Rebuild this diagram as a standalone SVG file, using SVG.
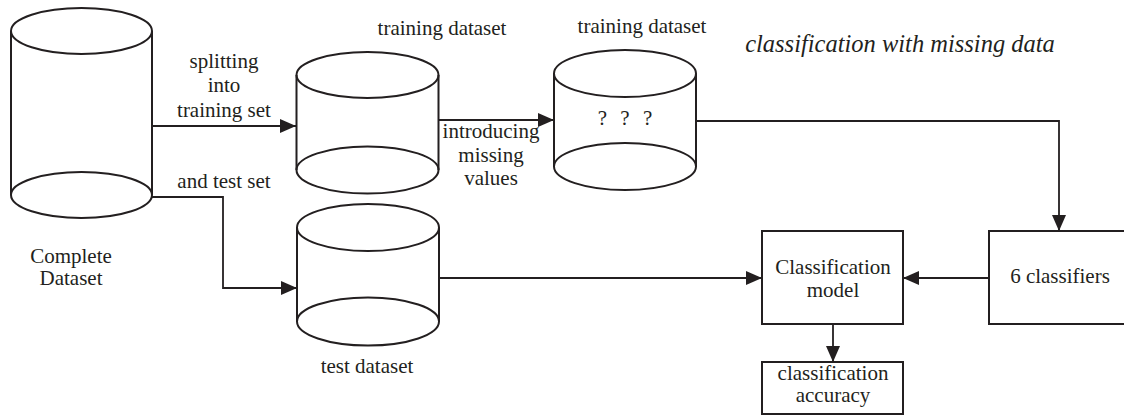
<svg xmlns="http://www.w3.org/2000/svg" width="1124" height="415" viewBox="0 0 1124 415">
<defs>
<style>
.t{font-family:"Liberation Serif","Times New Roman",serif;font-size:21px;fill:#231f20;text-anchor:middle}
.ti{font-family:"Liberation Serif","Times New Roman",serif;font-size:24.5px;font-style:italic;fill:#231f20;text-anchor:middle}
.s{fill:none;stroke:#231f20;stroke-width:2}
.c{fill:none;stroke:#231f20;stroke-width:1.8}
.box{fill:#fff;stroke:#231f20;stroke-width:2}
</style>
<marker id="ah" markerWidth="16" markerHeight="14" refX="16" refY="7" orient="auto" markerUnits="userSpaceOnUse">
<path d="M0,0 L16,7 L0,14 Z" fill="#231f20"/>
</marker>
</defs>
<rect width="1124" height="415" fill="#fff"/>

<g id="connectors">
<path class="c" d="M152,126 H296" marker-end="url(#ah)"/>
<path class="c" d="M152,197 H223 V288 H297" marker-end="url(#ah)"/>
<path class="c" d="M438,120 H554" marker-end="url(#ah)"/>
<path class="c" d="M696,121 H1059 V231" marker-end="url(#ah)"/>
<path class="c" d="M438,278 H762" marker-end="url(#ah)"/>
<path class="c" d="M989,278 H903" marker-end="url(#ah)"/>
<path class="c" d="M833,324 V362" marker-end="url(#ah)"/>
<text class="t" x="224" y="68">splitting</text>
<text class="t" x="224" y="92">into</text>
<text class="t" x="224" y="117">training set</text>
<text class="t" x="224" y="188">and test set</text>
<text class="t" x="491" y="138">introducing</text>
<text class="t" x="491" y="162">missing</text>
<text class="t" x="491" y="185">values</text>
</g>

<g id="complete-dataset">
<path class="s" d="M11,31 V195 A70.5,23 0 0 0 152,195 V31"/>
<ellipse class="s" cx="81.5" cy="31" rx="70.5" ry="23"/>
<path class="s" d="M11,195 A70.5,23 0 0 1 152,195"/>
<text class="t" x="71" y="263">Complete</text>
<text class="t" x="71" y="285">Dataset</text>
</g>

<g id="training-dataset">
<path class="s" d="M296.5,75 V170 A71,23.5 0 0 0 438.5,170 V75"/>
<ellipse class="s" cx="367.5" cy="75" rx="71" ry="23"/>
<path class="s" d="M296.5,170 A71,23.5 0 0 1 438.5,170"/>
<text class="t" x="442" y="35">training dataset</text>
</g>

<g id="training-dataset-missing">
<path class="s" d="M554,73.5 V166.5 A71,23.5 0 0 0 696,166.5 V73.5"/>
<ellipse class="s" cx="625" cy="73.5" rx="71" ry="23.5"/>
<path class="s" d="M554,166.5 A71,23.5 0 0 1 696,166.5"/>
<text class="t" x="625" y="125" style="word-spacing:8px">? ? ?</text>
<text class="t" x="642" y="33">training dataset</text>
</g>

<g id="test-dataset">
<path class="s" d="M297,227.5 V321.5 A71,24 0 0 0 439,321.5 V227.5"/>
<ellipse class="s" cx="368" cy="227.5" rx="71" ry="23.5"/>
<path class="s" d="M297,321.5 A71,24 0 0 1 439,321.5"/>
<text class="t" x="367" y="373">test dataset</text>
</g>

<g id="title">
<text class="ti" x="900" y="52">classification with missing data</text>
</g>

<g id="classification-model">
<rect class="box" x="762" y="231" width="141" height="93"/>
<text class="t" x="833" y="274">Classification</text>
<text class="t" x="833" y="297">model</text>
</g>

<g id="six-classifiers">
<rect class="box" x="989" y="231" width="145" height="93"/>
<text class="t" x="1060" y="283">6 classifiers</text>
</g>

<g id="classification-accuracy">
<rect class="box" x="762" y="362" width="141" height="52"/>
<text class="t" x="833" y="380">classification</text>
<text class="t" x="833" y="402">accuracy</text>
</g>
</svg>
